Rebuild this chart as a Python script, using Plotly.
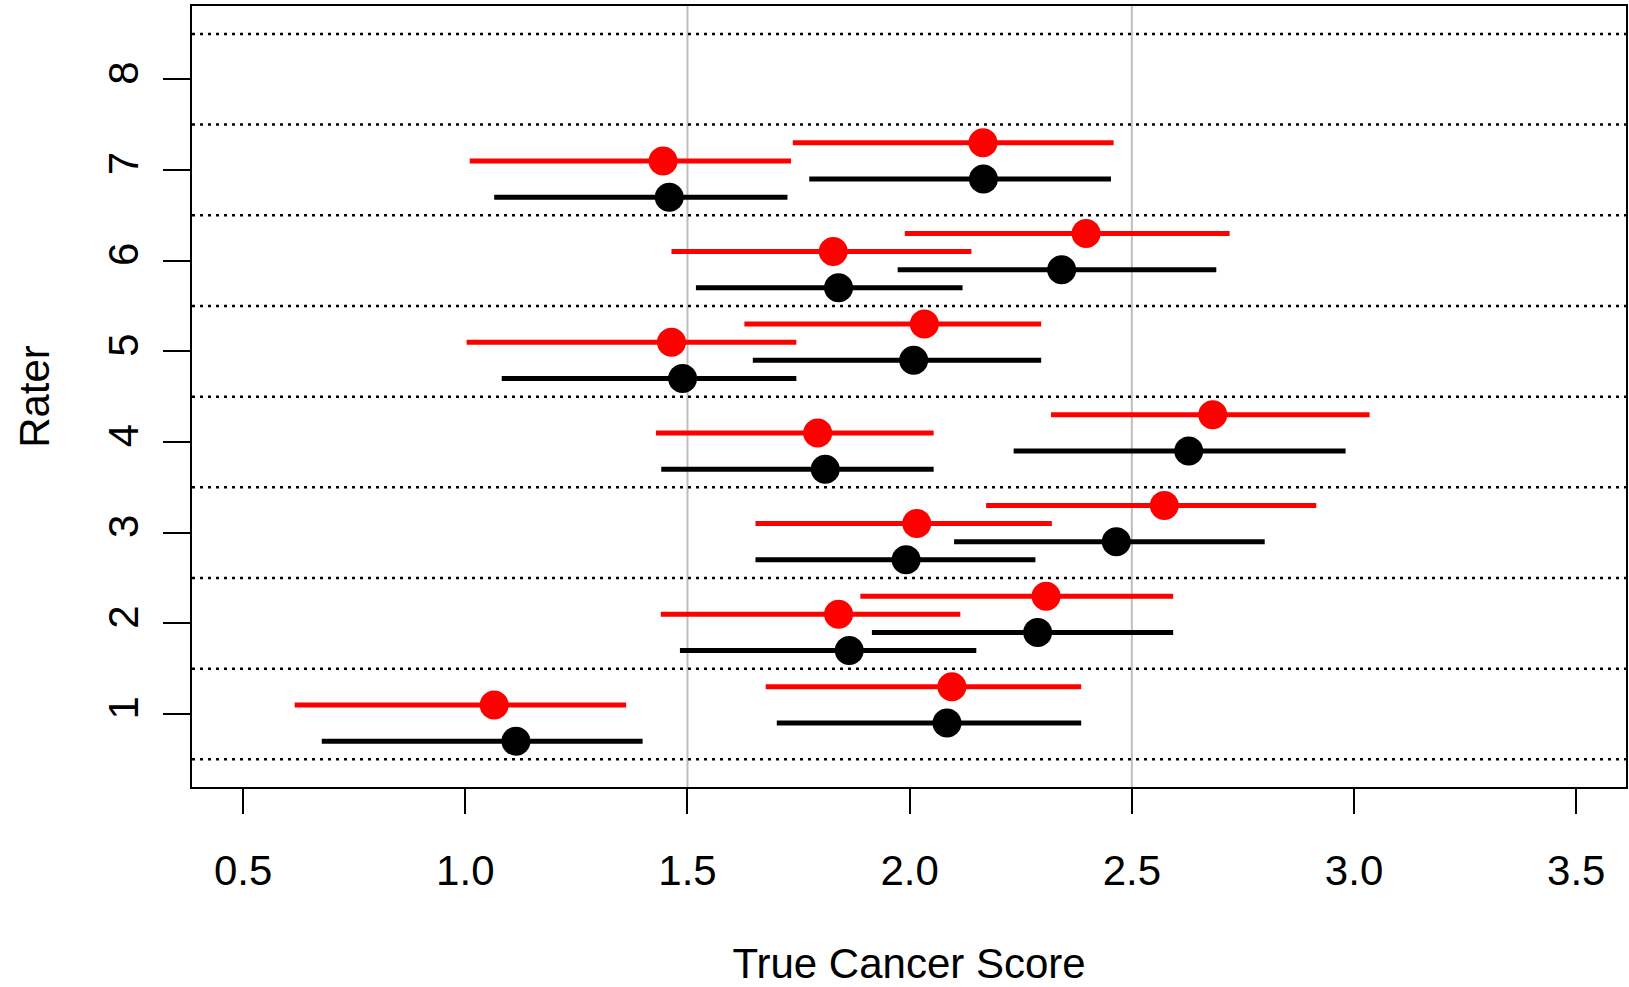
import plotly.graph_objects as go

# ---------------- data ----------------
raters = [1, 2, 3, 4, 5, 6, 7]
rater_ticks = [1, 2, 3, 4, 5, 6, 7, 8]
x_ticks = [0.5, 1.0, 1.5, 2.0, 2.5, 3.0, 3.5]

# lower cluster (A) and upper cluster (B); red and black estimates with intervals
redA_est = [1.065, 1.840, 2.016, 1.793, 1.464, 1.828, 1.445]
redA_lo = [0.616, 1.440, 1.653, 1.429, 1.003, 1.464, 1.010]
redA_hi = [1.362, 2.114, 2.320, 2.054, 1.745, 2.139, 1.733]

blackA_est = [1.114, 1.864, 1.992, 1.810, 1.489, 1.840, 1.459]
blackA_lo = [0.677, 1.483, 1.653, 1.441, 1.082, 1.519, 1.065]
blackA_hi = [1.399, 2.150, 2.283, 2.054, 1.745, 2.119, 1.725]

redB_est = [2.095, 2.307, 2.573, 2.682, 2.033, 2.397, 2.165]
redB_lo = [1.676, 1.889, 2.172, 2.318, 1.628, 1.989, 1.737]
redB_hi = [2.386, 2.593, 2.915, 3.035, 2.296, 2.720, 2.459]

blackB_est = [2.084, 2.288, 2.465, 2.628, 2.009, 2.342, 2.166]
blackB_lo = [1.701, 1.915, 2.100, 2.234, 1.647, 1.973, 1.774]
blackB_hi = [2.386, 2.593, 2.799, 2.981, 2.296, 2.690, 2.453]

ref_x = [1.5, 2.5]
sep_y = [0.5, 1.5, 2.5, 3.5, 4.5, 5.5, 6.5, 7.5, 8.5]

# ---------------- style ----------------
FONT = "Liberation Sans, Arial, sans-serif"
FS = 42
series = [
    (redA_est, redA_lo, redA_hi, 0.1, "#FF0000"),
    (blackA_est, blackA_lo, blackA_hi, -0.3, "#000000"),
    (redB_est, redB_lo, redB_hi, 0.3, "#FF0000"),
    (blackB_est, blackB_lo, blackB_hi, -0.1, "#000000"),
]

fig = go.Figure()

# interval lines
for est, lo, hi, off, col in series:
    xs, ys = [], []
    for r, a, b in zip(raters, lo, hi):
        xs += [a, b, None]
        ys += [r + off, r + off, None]
    fig.add_trace(go.Scatter(x=xs, y=ys, mode="lines",
                             line=dict(color=col, width=5),
                             hoverinfo="skip", showlegend=False))

# point estimates
for est, lo, hi, off, col in series:
    fig.add_trace(go.Scatter(x=est, y=[r + off for r in raters], mode="markers",
                             marker=dict(color=col, size=29, line=dict(width=0)),
                             showlegend=False))

shapes = []
for xv in ref_x:
    shapes.append(dict(type="line", xref="x", yref="paper", x0=xv, x1=xv, y0=0, y1=1,
                       line=dict(color="#BEBEBE", width=2), layer="below"))
for yv in sep_y:
    shapes.append(dict(type="line", xref="paper", yref="y", x0=0, x1=1, y0=yv, y1=yv,
                       line=dict(color="#000000", width=2.5, dash="3px,5px"), layer="below"))

fig.update_layout(
    width=1629, height=987,
    margin=dict(l=192, r=1, t=6, b=200),
    paper_bgcolor="white", plot_bgcolor="white",
    font=dict(family=FONT, size=FS, color="black"),
    shapes=shapes,
    showlegend=False,
)

fig.update_xaxes(
    range=[0.385, 3.612], tickvals=x_ticks, ticktext=[f"{v:.1f}" for v in x_ticks],
    showgrid=False, zeroline=False,
    showline=True, linecolor="black", linewidth=2, mirror=True,
    ticks="outside", ticklen=25, tickwidth=2, tickcolor="black",
    tickfont=dict(size=FS, family=FONT), ticklabelstandoff=21,
    title=dict(text="True Cancer Score", font=dict(size=FS, family=FONT), standoff=57),
)
fig.update_yaxes(
    range=[0.195, 8.808], tickvals=rater_ticks, ticktext=[str(v) for v in rater_ticks],
    tickangle=-90,
    showgrid=False, zeroline=False,
    showline=True, linecolor="black", linewidth=2, mirror=True,
    ticks="outside", ticklen=27, tickwidth=2, tickcolor="black",
    tickfont=dict(size=FS, family=FONT), ticklabelstandoff=8,
    title=dict(text="Rater", font=dict(size=FS, family=FONT), standoff=38),
)

fig.write_html("out.html")
